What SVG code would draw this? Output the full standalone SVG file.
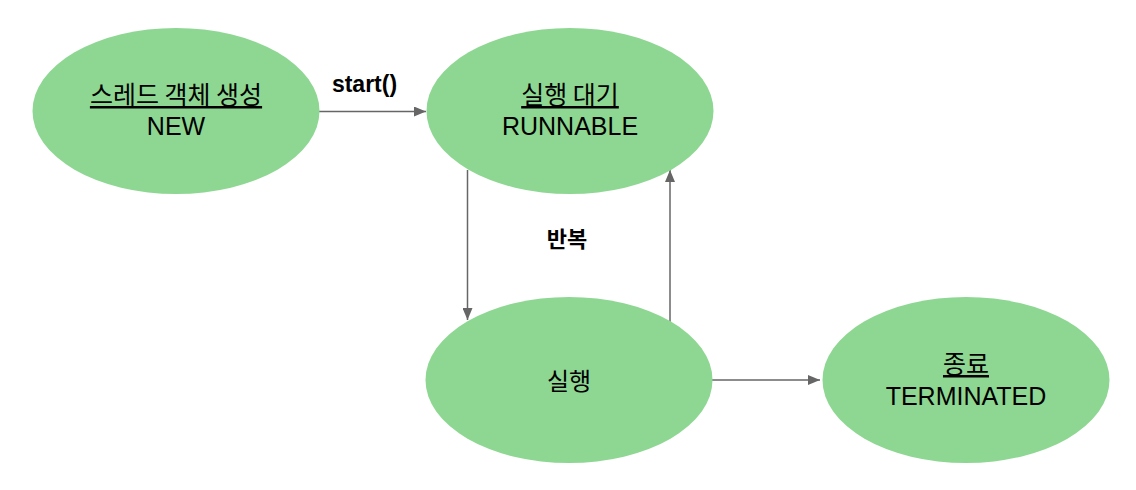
<svg xmlns="http://www.w3.org/2000/svg" width="1136" height="490" viewBox="0 0 1136 490">
<style>
.node{fill:#8ed792;stroke:none}
.t{font-family:"Liberation Sans","Noto Sans CJK KR",sans-serif;font-size:25px;fill:#000;text-anchor:middle}
.k{font-family:"Noto Sans CJK KR","Liberation Sans",sans-serif;font-size:25px;fill:#000;text-anchor:middle}
.u{text-decoration:underline}
.lbl{font-family:"Liberation Sans","Noto Sans CJK KR",sans-serif;font-size:23px;font-weight:bold;fill:#000;text-anchor:middle}
.klbl{font-family:"Noto Sans CJK KR","Liberation Sans",sans-serif;font-size:22px;font-weight:bold;fill:#000;text-anchor:middle}
.edge{stroke:#666;stroke-width:1.5;fill:none;marker-end:url(#ah)}
</style>
<defs>
<marker id="ah" viewBox="0 0 12 10" refX="12" refY="5" markerWidth="12" markerHeight="10" markerUnits="userSpaceOnUse" orient="auto">
<path d="M0,0 L12,5 L0,10 Z" fill="#666"/>
</marker>
</defs>
<rect width="1136" height="490" fill="#fff"/>
<g id="connectors">
<line class="edge" x1="319" y1="111.5" x2="426" y2="111.5"/>
<line class="edge" x1="467.5" y1="170" x2="467.5" y2="320"/>
<line class="edge" x1="670" y1="322" x2="670" y2="170"/>
<line class="edge" x1="712" y1="380" x2="820" y2="380"/>
<text class="lbl" x="364.5" y="92">start()</text>
<text class="klbl" x="567" y="247">반복</text>
</g>
<g id="node-new">
<ellipse class="node" cx="176" cy="111" rx="143.5" ry="83"/>
<text class="k u" x="176" y="104">스레드 객체 생성</text>
<text class="t" x="176" y="135">NEW</text>
</g>
<g id="node-runnable">
<ellipse class="node" cx="570" cy="111" rx="143.5" ry="83"/>
<text class="k u" x="570" y="104">실행 대기</text>
<text class="t" x="570" y="135">RUNNABLE</text>
</g>
<g id="node-running">
<ellipse class="node" cx="569" cy="380" rx="143.5" ry="83"/>
<text class="k" x="569" y="390" style="font-size:24px">실행</text>
</g>
<g id="node-terminated">
<ellipse class="node" cx="966" cy="380" rx="143.5" ry="83"/>
<text class="k u" x="966" y="373">종료</text>
<text class="t" x="966" y="405">TERMINATED</text>
</g>
</svg>
